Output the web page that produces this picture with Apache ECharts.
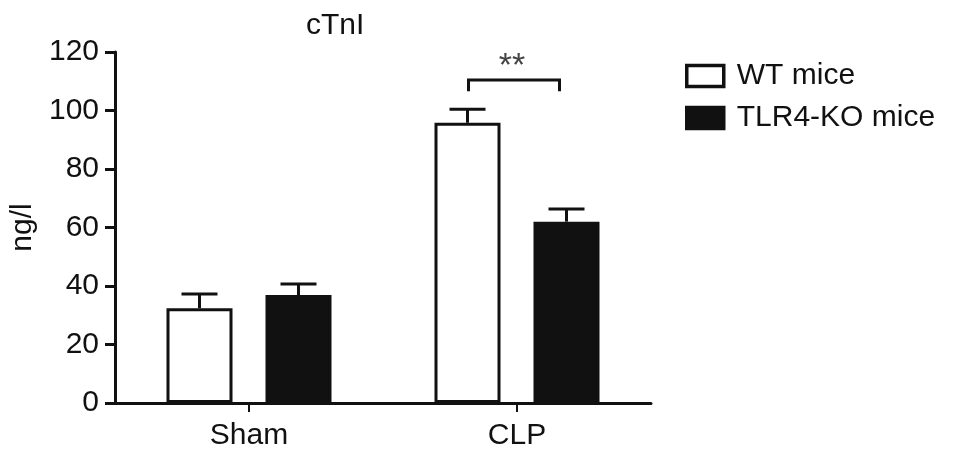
<!DOCTYPE html>
<html>
<head>
<meta charset="utf-8">
<script src="https://cdn.jsdelivr.net/npm/echarts@6/dist/echarts.min.js"></script>
<style>html,body{margin:0;padding:0;background:#fff;}#c{width:969px;height:464px;}</style>
</head>
<body>
<div id="c"></div>
<script>
// ---- data ----
const categories = ['Sham', 'CLP'];
const seriesNames = ['WT mice', 'TLR4-KO mice'];
const wtMean = [32.4, 95.8];
const wtErr = [4.9, 4.6];
const koMean = [36.9, 62.0];
const koErr = [3.8, 4.3];
const yTicks = [0, 20, 40, 60, 80, 100, 120];
const sigCategory = [1];
const sigLevel = [110.4];
const sigDrop = [106.6];
const sigText = ['**'];

// ---- style ----
const FONT = "'Liberation Sans', Arial, Helvetica, sans-serif";
const INK = '#111';
const BAR_W = 66;
const GAP_RATIO = 0.5;
const FS = 30;

const chart = echarts.init(document.getElementById('c'));

function barOffset(side) {
  return side * (BAR_W + BAR_W * GAP_RATIO) / 2;
}

function errData(means, errs) {
  return means.map((m, i) => [i, m, errs[i]]);
}

function errRender(side) {
  return function (params, api) {
    const cat = api.value(0), mean = api.value(1), err = api.value(2);
    const base = api.coord([cat, mean]);
    const top = api.coord([cat, mean + err]);
    const x = base[0] + barOffset(side);
    const st = { stroke: INK, lineWidth: 3 };
    return {
      type: 'group',
      children: [
        { type: 'line', shape: { x1: x, y1: base[1], x2: x, y2: top[1] }, style: st },
        { type: 'line', shape: { x1: x - 18, y1: top[1], x2: x + 18, y2: top[1] }, style: st }
      ]
    };
  };
}

const sigData = sigCategory.map((c, i) => [c, sigLevel[i], sigDrop[i], sigText[i]]);

const option = {
  animation: false,
  backgroundColor: '#fff',
  title: {
    text: 'cTnI',
    left: 301,
    top: 6,
    textStyle: { fontFamily: FONT, fontSize: FS, fontWeight: 'normal', color: INK }
  },
  legend: {
    data: [
      { name: seriesNames[0], itemStyle: { color: '#fff', borderColor: INK, borderWidth: 3.5 } },
      { name: seriesNames[1], itemStyle: { color: INK, borderColor: INK, borderWidth: 3.5 } }
    ],
    orient: 'vertical',
    left: 680,
    top: 56,
    itemWidth: 37,
    itemHeight: 21,
    itemGap: 12,
    icon: 'rect',
    textStyle: { fontFamily: FONT, fontSize: FS, color: INK, padding: [0, 0, 0, 8] }
  },
  grid: { left: 115, right: 318, top: 52, bottom: 61, containLabel: false },
  xAxis: {
    type: 'category',
    data: categories,
    axisLine: { lineStyle: { color: INK, width: 3 } },
    axisTick: { show: true, alignWithLabel: true, length: 9, lineStyle: { color: INK, width: 2 } },
    axisLabel: { fontFamily: FONT, fontSize: FS, color: INK, margin: 18 }
  },
  yAxis: {
    type: 'value',
    min: yTicks[0],
    max: yTicks[yTicks.length - 1],
    interval: yTicks[1] - yTicks[0],
    name: 'ng/l',
    nameLocation: 'middle',
    nameGap: 76,
    nameTextStyle: { fontFamily: FONT, fontSize: FS, color: INK },
    axisLine: { show: true, lineStyle: { color: INK, width: 3 } },
    axisTick: { show: true, length: 10, lineStyle: { color: INK, width: 3 } },
    axisLabel: { fontFamily: FONT, fontSize: FS, color: INK, margin: 16 },
    splitLine: { show: false }
  },
  series: [
    {
      name: seriesNames[0],
      type: 'bar',
      data: wtMean,
      barWidth: BAR_W,
      barGap: (GAP_RATIO * 100) + '%',
      itemStyle: { color: '#fff', borderColor: INK, borderWidth: 3 },
      z: 2
    },
    {
      name: seriesNames[1],
      type: 'bar',
      data: koMean,
      barWidth: BAR_W,
      itemStyle: { color: INK, borderColor: INK, borderWidth: 3 },
      z: 2
    },
    {
      type: 'custom',
      data: errData(wtMean, wtErr),
      renderItem: errRender(-1),
      z: 3,
      silent: true
    },
    {
      type: 'custom',
      data: errData(koMean, koErr),
      renderItem: errRender(1),
      z: 3,
      silent: true
    },
    {
      type: 'custom',
      data: sigData,
      z: 4,
      silent: true,
      renderItem: function (params, api) {
        const cat = api.value(0);
        const lvl = api.coord([cat, api.value(1)]);
        const drop = api.coord([cat, api.value(2)]);
        const x1 = lvl[0] + barOffset(-1) + 1;
        const x2 = lvl[0] + barOffset(1) - 7;
        const st = { stroke: INK, lineWidth: 3, fill: null, lineJoin: 'miter' };
        return {
          type: 'group',
          children: [
            { type: 'polyline', shape: { points: [[x1, drop[1]], [x1, lvl[1]], [x2, lvl[1]], [x2, drop[1]]] }, style: st },
            { type: 'text', style: { text: sigText[params.dataIndex], x: (x1 + x2) / 2 - 2, y: lvl[1] + 4, align: 'center', verticalAlign: 'bottom', fontFamily: FONT, fontSize: 34, fill: '#444' } }
          ]
        };
      }
    }
  ]
};

chart.setOption(option);
</script>
</body>
</html>
